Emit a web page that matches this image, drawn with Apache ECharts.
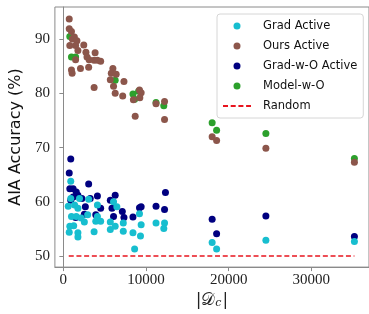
<!DOCTYPE html>
<html>
<head>
<meta charset="utf-8">
<script src="https://cdn.jsdelivr.net/npm/echarts@6/dist/echarts.min.js"></script>
<style>html,body{margin:0;padding:0;background:#fff}#c{width:369px;height:314px}</style>
</head>
<body>
<div id="c"></div>
<script>
// ---- data ----
const gradX = [894, 894, 1950, 3060, 590, 1360, 1760, 4120, 6070, 6470, 980, 1560, 2150, 2940, 4120, 780, 1250, 2540, 3920, 4510, 5680, 6270, 7250, 7250, 710, 1760, 1760, 3720, 5680, 8420, 9410, 9210, 9330, 8620, 11210, 12240, 12150, 18000, 18540, 24500, 35210];
const gradY = [63.8, 60.6, 60.6, 60.5, 59.2, 59.4, 58.8, 59.4, 60.0, 59.1, 57.3, 57.3, 57.0, 57.6, 57.3, 55.5, 55.6, 56.3, 56.4, 56.4, 56.3, 55.5, 56.1, 54.6, 54.4, 54.3, 53.5, 54.5, 54.9, 54.3, 55.8, 57.8, 53.7, 51.3, 56.1, 56.1, 55.1, 52.5, 51.3, 52.9, 52.7];

const oursX = [710, 710, 980, 1330, 1090, 1640, 1480, 780, 2470, 1760, 2730, 3840, 1480, 2860, 3120, 3720, 4120, 4510, 980, 1060, 2070, 3060, 3720, 5990, 5800, 6390, 5680, 7330, 6070, 6270, 7180, 9210, 9410, 8470, 9250, 8690, 11210, 12240, 12240, 18000, 18540, 24500, 35210];
const oursY = [93.7, 91.9, 91.4, 90.4, 90.0, 89.7, 88.8, 88.8, 88.9, 87.9, 87.6, 87.5, 86.2, 86.7, 86.2, 86.1, 86.1, 85.9, 84.3, 83.7, 84.6, 84.8, 81.1, 84.6, 83.7, 83.5, 82.5, 82.2, 81.3, 80.0, 79.5, 80.6, 80.1, 78.8, 79.2, 75.8, 78.1, 78.5, 75.2, 72.0, 71.3, 69.9, 67.3];

const gwoX = [894, 710, 3060, 780, 1180, 1560, 1760, 1180, 894, 2240, 3250, 4120, 5680, 6270, 2660, 4510, 5880, 6070, 7130, 7330, 8420, 9210, 9410, 11210, 12240, 12350, 1480, 2540, 3920, 18000, 18540, 24500, 35210];
const gwoY = [67.9, 65.3, 63.3, 62.4, 62.4, 61.8, 61.2, 60.9, 60.3, 60.6, 60.6, 61.1, 60.3, 61.2, 59.1, 58.8, 58.8, 57.3, 58.2, 57.1, 57.2, 58.9, 59.1, 59.2, 58.6, 61.7, 57.1, 57.7, 57.6, 56.8, 54.1, 57.4, 53.6];

const modelX = [780, 980, 1480, 6270, 8420, 8620, 9100, 11210, 12150, 18000, 18540, 24500, 35210];
const modelY = [90.5, 86.7, 86.7, 82.4, 79.9, 78.9, 80.4, 78.3, 77.7, 74.6, 73.2, 72.6, 68.0];

const randomX = [650, 35210];
const randomY = [50, 50];

const xTicks = [0, 10000, 20000, 30000];
const yTicks = [50, 60, 70, 80, 90];

const seriesNames = ['Grad Active', 'Ours Active', 'Grad-w-O Active', 'Model-w-O', 'Random'];

// ---- chart ----
const zip = (xs, ys) => xs.map((x, i) => [x, ys[i]]);
const chart = echarts.init(document.getElementById('c'), null, {renderer: 'canvas'});
const tickFont = {fontFamily: 'Liberation Serif', fontSize: 15, color: '#222'};
const axisColor = '#8a8a8a';
const dot = 7;

chart.setOption({
  animation: false,
  backgroundColor: '#fff',
  grid: {left: 48, right: -2, top: 7, bottom: 40, show: true, borderColor: axisColor, borderWidth: 1, backgroundColor: 'transparent'},
  legend: {
    orient: 'vertical',
    left: 217, top: 14,
    data: seriesNames.map(n => n === 'Random' ? {name: n, itemStyle: {opacity: 0}} : n),
    itemWidth: 28, itemHeight: 7, itemGap: 6,
    padding: [5, 6, 5, 5],
    borderColor: '#d6d6d6', borderWidth: 1, borderRadius: 3,
    backgroundColor: 'rgba(255,255,255,0.85)',
    textStyle: {fontFamily: 'DejaVu Sans', fontSize: 11.5, color: '#111', lineHeight: 14, padding: [0, 0, 0, 7]}
  },
  xAxis: {
    type: 'value', min: -1024, max: 36976,
    name: '{a||𝒟}{s|c}{a||}', nameLocation: 'middle', nameGap: 18,
    nameTextStyle: {rich: {
      a: {fontFamily: 'DejaVu Serif', fontSize: 17, color: '#222', verticalAlign: 'bottom'},
      s: {fontFamily: 'DejaVu Serif', fontSize: 11, fontStyle: 'italic', color: '#222', verticalAlign: 'bottom', padding: [0, 1, 0, 0]}
    }},
    splitLine: {show: false},
    axisLine: {show: true, lineStyle: {color: axisColor}},
    axisTick: {show: true, length: 4, customValues: xTicks, lineStyle: {color: axisColor}},
    axisLabel: Object.assign({customValues: xTicks, margin: 5, formatter: v => String(v)}, tickFont)
  },
  yAxis: {
    type: 'value', min: 47.97, max: 95.92,
    name: 'AIA Accuracy (%)', nameLocation: 'middle', nameGap: 23,
    nameTextStyle: {fontFamily: 'DejaVu Sans', fontSize: 16, color: '#111'},
    splitLine: {show: false},
    axisLine: {show: true, lineStyle: {color: axisColor}},
    axisTick: {show: true, length: 4, customValues: yTicks, lineStyle: {color: axisColor}},
    axisLabel: Object.assign({customValues: yTicks, margin: 5, formatter: v => String(v)}, tickFont)
  },
  series: [
    {name: 'Model-w-O', type: 'scatter', symbolSize: dot, itemStyle: {color: '#2ca02c', opacity: 1}, data: zip(modelX, modelY)},
    {name: 'Ours Active', type: 'scatter', symbolSize: dot, itemStyle: {color: '#8c564b', opacity: 1}, data: zip(oursX, oursY)},
    {name: 'Grad-w-O Active', type: 'scatter', symbolSize: dot, itemStyle: {color: '#000080', opacity: 1}, data: zip(gwoX, gwoY)},
    {name: 'Grad Active', type: 'scatter', symbolSize: dot, itemStyle: {color: '#17becf', opacity: 1}, data: zip(gradX, gradY)},
    {name: 'Random', type: 'line', symbol: 'none', lineStyle: {color: '#e8141e', type: [5, 2.7], width: 1.5}, itemStyle: {color: '#e8141e'}, data: zip(randomX, randomY)}
  ]
});
</script>
</body>
</html>
